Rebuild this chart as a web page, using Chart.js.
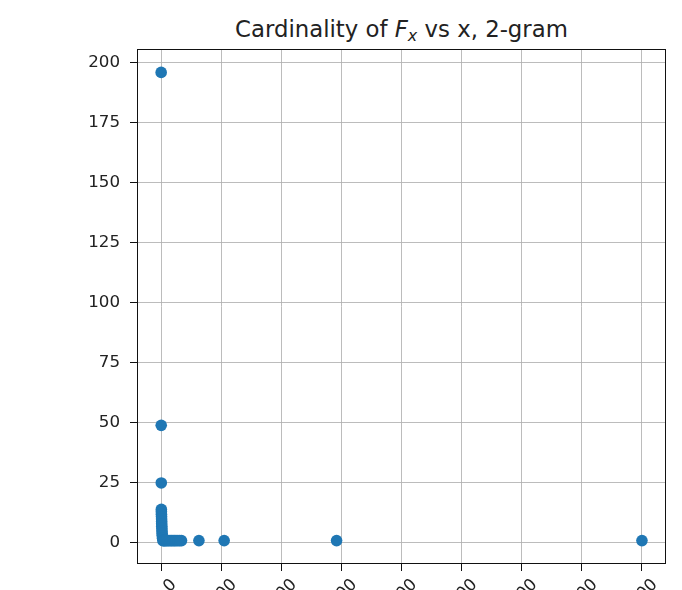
<!DOCTYPE html>
<html>
<head>
<meta charset="utf-8">
<script src="https://cdn.jsdelivr.net/npm/chart.js@4"></script>
<style>
    html, body {
        margin: 0;
        padding: 0;
        overflow: hidden;
        background: #fff;
        width: 682px;
        height: 590px;
    }
    #wrap {
        position: relative;
        width: 682px;
        height: 590px;
        overflow: hidden;
    }
    #title {
        position: absolute;
        left: 137px;
        width: 529px;
        top: 16px;
        line-height: 26px;
        text-align: center;
        font-family: 'DejaVu Sans', sans-serif;
        font-size: 22.8px;
        color: #222;
    }
    #title sub {
        font-size: 70%;
        font-style: italic;
        vertical-align: -4px;
        line-height: 0;
    }
    canvas {
        position: absolute;
        left: 0;
        top: 0;
    }
</style>
</head>
<body>
<div id="wrap">
    <div id="title">Cardinality of <i>F</i><sub>x</sub> vs x, 2-gram</div>
    <canvas id="cardChart" width="682" height="630"></canvas>
</div>
<script>
// x = frequency, y = cardinality of F_x
const xValues = [4, 6, 8, 10, 12, 14, 16, 18, 20, 22, 25, 28, 32, 36, 40, 50,
    60, 90, 120, 160, 200, 250, 300, 350, 400, 450, 500, 560, 620, 680, 1260, 2100, 5840, 16000];
const yValues = [196, 49, 25, 14, 13, 12, 11, 10, 9, 8, 7, 6, 5, 4, 3, 2,
    1, 1, 1, 1, 1, 1, 1, 1, 1, 1, 1, 1, 1, 1, 1, 1, 1, 1];
const xTicks = [0, 2000, 4000, 6000, 8000, 10000, 12000, 14000, 16000];
const yTicks = [0, 25, 50, 75, 100, 125, 150, 175, 200];

const points = xValues.map((x, i) => ({ x: x, y: yValues[i] }));

// frame around the plot area (matplotlib spines)
const frame = {
    id: 'frame',
    afterDraw(chart) {
        const a = chart.chartArea;
        const ctx = chart.ctx;
        ctx.save();
        ctx.strokeStyle = '#111';
        ctx.lineWidth = 1;
        ctx.strokeRect(Math.round(a.left) + 0.5, Math.round(a.top) + 0.5,
            Math.round(a.right - a.left) - 1, Math.round(a.bottom - a.top) - 1);
        ctx.restore();
    }
};

const ctx = document.getElementById('cardChart').getContext('2d');
const cardChart = new Chart(ctx, {
    type: 'scatter',
    data: {
        datasets: [{
            data: points,
            backgroundColor: '#1f77b4',
            borderColor: '#1f77b4',
            borderWidth: 0,
            pointRadius: 5.8,
            pointHoverRadius: 5.8
        }]
    },
    options: {
        responsive: false,
        animation: false,
        devicePixelRatio: 1,
        layout: {
            padding: { top: 49, right: 16, left: 0, bottom: 0 }
        },
        plugins: {
            legend: { display: false },
            tooltip: { enabled: false },
            title: { display: false }
        },
        scales: {
            x: {
                type: 'linear',
                min: -800,
                max: 16800,
                z: 1,
                afterBuildTicks: function(scale) {
                    scale.ticks = xTicks.map(v => ({ value: v }));
                },
                afterFit: function(scale) {
                    scale.height = 66;
                },
                ticks: {
                    includeBounds: false,
                    minRotation: 45,
                    maxRotation: 45,
                    labelOffset: 13,
                    padding: 4,
                    color: '#222',
                    font: { size: 16.7, family: 'DejaVu Sans' },
                    callback: function(value) {
                        return String(value);
                    }
                },
                grid: {
                    color: 'rgba(176, 176, 176, 0.85)',
                    lineWidth: 1,
                    tickColor: '#111',
                    tickLength: 7
                },
                border: { display: false }
            },
            y: {
                type: 'linear',
                min: -8.75,
                max: 205.75,
                z: 1,
                afterBuildTicks: function(scale) {
                    scale.ticks = yTicks.map(v => ({ value: v }));
                },
                afterFit: function(scale) {
                    scale.width = 137;
                },
                ticks: {
                    includeBounds: false,
                    padding: 10,
                    color: '#222',
                    font: { size: 16.7, family: 'DejaVu Sans' }
                },
                grid: {
                    color: 'rgba(176, 176, 176, 0.85)',
                    lineWidth: 1,
                    tickColor: '#111',
                    tickLength: 7
                },
                border: { display: false }
            }
        }
    },
    plugins: [frame]
});
</script>
</body>
</html>
